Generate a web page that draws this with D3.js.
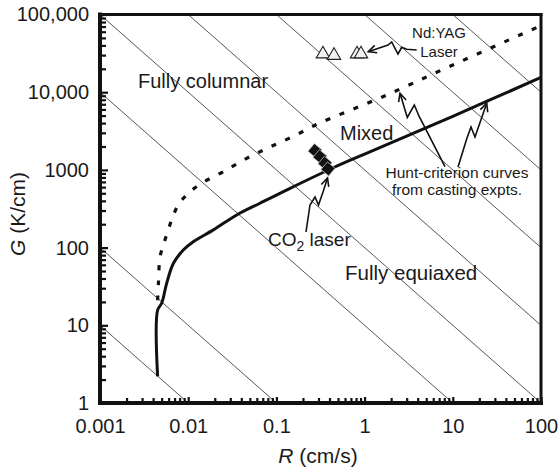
<!DOCTYPE html>
<html>
<head>
<meta charset="utf-8">
<style>
    body, html {
        margin: 0;
        padding: 0;
        background: #fff;
        overflow: hidden;
    }
    svg text {
        font-family: "Liberation Sans", Arial, Helvetica, sans-serif;
        fill: #1a1a1a;
    }
</style>
</head>
<body>
<svg width="558" height="474"></svg>
<script src="https://d3js.org/d3.v7.min.js"></script>
<script>
    // axis ticks
    var xTicks = [0.001, 0.01, 0.1, 1, 10, 100];
    var xTickLabels = ["0.001", "0.01", "0.1", "1", "10", "100"];
    var yTicks = [1, 10, 100, 1000, 10000, 100000];
    var yTickLabels = ["1", "10", "100", "1000", "10,000", "100,000"];

    // constant cooling-rate lines (G*R)
    var coolingRates = [0.01, 0.1, 10, 100, 1000, 10000, 100000, 1000000];

    // Hunt criterion: columnar / mixed boundary (dashed)
    var columnarR = [0.0045, 0.0046, 0.0048, 0.00545, 0.0065, 0.0077, 0.010, 0.0142, 0.025, 0.046, 0.080, 0.150, 0.312, 1.5, 10, 100];
    var columnarG = [21, 35, 76, 125, 227, 353, 500, 673, 948, 1410, 1915, 2650, 4020, 8450, 22400, 72000];

    // Hunt criterion: mixed / equiaxed boundary (solid)
    var equiaxedR = [0.0045, 0.0045, 0.0050, 0.0057, 0.0068, 0.0088, 0.0114, 0.0193, 0.0355, 0.065, 0.143, 0.46, 1, 10, 100];
    var equiaxedG = [2.2, 15.7, 19.2, 34.7, 62.8, 93, 119, 169, 263, 372, 580, 1090, 1600, 4900, 15500];

    // laser experiments
    var yagR = [0.337, 0.45, 0.82, 0.91];
    var yagG = [31000, 29700, 31000, 31000];
    var co2R = [0.274, 0.312, 0.356, 0.385];
    var co2G = [1770, 1480, 1220, 1030];

    var svg = d3.select("svg"),
        plotLeft = 100, plotRight = 541, plotTop = 14.5, plotBottom = 403;

    var x = d3.scaleLog().domain([0.001, 100]).range([plotLeft, plotRight]);
    var y = d3.scaleLog().domain([1, 100000]).range([plotBottom, plotTop]);

    svg.append("clipPath").attr("id", "plot")
        .append("rect")
        .attr("x", plotLeft).attr("y", plotTop)
        .attr("width", plotRight - plotLeft).attr("height", plotBottom - plotTop);

    var plot = svg.append("g").attr("clip-path", "url(#plot)");

    // cooling-rate lines
    var line = d3.line().x(function (d) { return x(d[0]); }).y(function (d) { return y(d[1]); });
    plot.append("g")
        .selectAll("path")
        .data(coolingRates)
        .enter().append("path")
        .attr("d", function (c) { return line([[0.001, c / 0.001], [100, c / 100]]); })
        .attr("fill", "none")
        .attr("stroke", "#444")
        .attr("stroke-width", 0.9);

    var curve = d3.line()
        .x(function (d) { return x(d[0]); })
        .y(function (d) { return y(d[1]); })
        .curve(d3.curveCatmullRom.alpha(0.5));

    plot.append("path")
        .attr("d", curve(d3.zip(columnarR, columnarG)))
        .attr("fill", "none")
        .attr("stroke", "#111")
        .attr("stroke-width", 3.2)
        .attr("stroke-dasharray", "5,10");

    plot.append("path")
        .attr("d", curve(d3.zip(equiaxedR, equiaxedG)))
        .attr("fill", "none")
        .attr("stroke", "#111")
        .attr("stroke-width", 3);

    // Nd:YAG points
    var tri = d3.symbol().type(d3.symbolTriangle).size(78);
    svg.append("g")
        .selectAll("path")
        .data(d3.zip(yagR, yagG))
        .enter().append("path")
        .attr("d", tri)
        .attr("transform", function (d) { return "translate(" + x(d[0]) + "," + y(d[1]) + ")"; })
        .attr("fill", "#f2f2f2")
        .attr("stroke", "#222")
        .attr("stroke-width", 1.1);

    // CO2 points
    var sq = d3.symbol().type(d3.symbolSquare).size(100);
    svg.append("g")
        .selectAll("path")
        .data(d3.zip(co2R, co2G))
        .enter().append("path")
        .attr("d", sq)
        .attr("transform", function (d) { return "translate(" + x(d[0]) + "," + y(d[1]) + ") rotate(40)"; })
        .attr("fill", "#111")
        .attr("stroke", "#c8c8c8")
        .attr("stroke-width", 0.7);

    // axes
    var minorX = [], minorY = [];
    xTicks.slice(0, -1).forEach(function (t) { for (var k = 2; k < 10; k++) minorX.push(t * k); });
    yTicks.slice(0, -1).forEach(function (t) { for (var k = 2; k < 10; k++) minorY.push(t * k); });

    function styleAxis(g) {
        g.select(".domain").remove();
        g.selectAll(".tick line").attr("stroke", "#111").attr("stroke-width", 2.2);
        g.selectAll("text").attr("font-size", 20).attr("fill", "#1a1a1a")
            .attr("font-family", '"Liberation Sans", Arial, sans-serif');
    }

    svg.append("g").attr("transform", "translate(" + plotLeft + ",0)")
        .call(d3.axisLeft(y).tickValues(minorY).tickFormat("").tickSizeInner(-6).tickSizeOuter(0))
        .call(styleAxis);
    svg.append("g").attr("transform", "translate(" + plotLeft + ",0)")
        .call(d3.axisLeft(y).tickValues(yTicks).tickFormat(function (d, i) { return yTickLabels[i]; })
            .tickSizeInner(-8).tickSizeOuter(0).tickPadding(11))
        .call(styleAxis);

    svg.append("g").attr("transform", "translate(0," + plotBottom + ")")
        .call(d3.axisBottom(x).tickValues(minorX).tickFormat("").tickSizeInner(-5).tickSizeOuter(0))
        .call(styleAxis);
    svg.append("g").attr("transform", "translate(0," + plotBottom + ")")
        .call(d3.axisBottom(x).tickValues(xTicks).tickFormat(function (d, i) { return xTickLabels[i]; })
            .tickSizeInner(-6).tickSizeOuter(0).tickPadding(16))
        .call(styleAxis);

    // frame
    var frame = svg.append("g").attr("stroke", "#111").attr("stroke-linecap", "square");
    frame.append("line").attr("x1", plotLeft).attr("x2", plotRight).attr("y1", plotTop).attr("y2", plotTop).attr("stroke-width", 3);
    frame.append("line").attr("x1", plotRight).attr("x2", plotRight).attr("y1", plotTop).attr("y2", plotBottom).attr("stroke-width", 3);
    frame.append("line").attr("x1", plotLeft).attr("x2", plotLeft).attr("y1", plotTop).attr("y2", plotBottom).attr("stroke-width", 4);
    frame.append("line").attr("x1", plotLeft).attr("x2", plotRight).attr("y1", plotBottom).attr("y2", plotBottom).attr("stroke-width", 4);

    // axis titles
    var xt = svg.append("text").attr("x", 318).attr("y", 463)
        .attr("text-anchor", "middle").attr("font-size", 21);
    xt.append("tspan").attr("font-style", "italic").text("R");
    xt.append("tspan").text(" (cm/s)");

    var yt = svg.append("text").attr("transform", "translate(25,214) rotate(-90)")
        .attr("text-anchor", "middle").attr("font-size", 21);
    yt.append("tspan").attr("font-style", "italic").text("G");
    yt.append("tspan").text(" (K/cm)");

    // region labels
    svg.append("text").attr("x", 138).attr("y", 88).attr("font-size", 20).text("Fully columnar");
    svg.append("text").attr("x", 340).attr("y", 140).attr("font-size", 20).text("Mixed");
    svg.append("text").attr("x", 345).attr("y", 280).attr("font-size", 20.5).text("Fully equiaxed");

    svg.append("text").attr("x", 439).attr("y", 38).attr("text-anchor", "middle").attr("font-size", 15).text("Nd:YAG");
    svg.append("text").attr("x", 439).attr("y", 57).attr("text-anchor", "middle").attr("font-size", 15).text("Laser");

    svg.append("text").attr("x", 457).attr("y", 178).attr("text-anchor", "middle").attr("font-size", 15.5).text("Hunt-criterion curves");
    svg.append("text").attr("x", 457).attr("y", 195).attr("text-anchor", "middle").attr("font-size", 15.5).text("from casting expts.");

    var co2 = svg.append("text").attr("x", 268).attr("y", 246).attr("font-size", 19);
    co2.append("tspan").text("CO");
    co2.append("tspan").attr("dy", 5).attr("font-size", 14).text("2");
    co2.append("tspan").attr("dy", -5).text(" laser");

    // squiggly arrows, tail to tip (pixel layout)
    var arrows = [
        [[416.7, 50], [406.7, 49.3], [401.7, 47.3], [398, 54], [395, 48.3], [391.7, 42], [388, 45], [368.3, 51.7]],
        [[445, 166.7], [419.3, 116.7], [414.3, 105], [407.3, 117.5], [400, 93.3]],
        [[458, 167], [467, 138], [471, 127], [475, 137], [486.7, 103.3]],
        [[306, 232], [310, 205], [315, 197], [318.5, 205], [323, 192], [327.5, 178]]
    ];
    var arrowG = svg.append("g").attr("fill", "none").attr("stroke", "#111").attr("stroke-width", 1.6);
    arrows.forEach(function (pts) {
        arrowG.append("path").attr("d", d3.line()(pts));
        var a = pts[pts.length - 1], b = pts[pts.length - 2];
        var ang = Math.atan2(b[1] - a[1], b[0] - a[0]), len = 9, spread = 0.45;
        arrowG.append("path").attr("d", d3.line()([
            [a[0] + len * Math.cos(ang + spread), a[1] + len * Math.sin(ang + spread)],
            a,
            [a[0] + len * Math.cos(ang - spread), a[1] + len * Math.sin(ang - spread)]
        ]));
    });
</script>
</body>
</html>
